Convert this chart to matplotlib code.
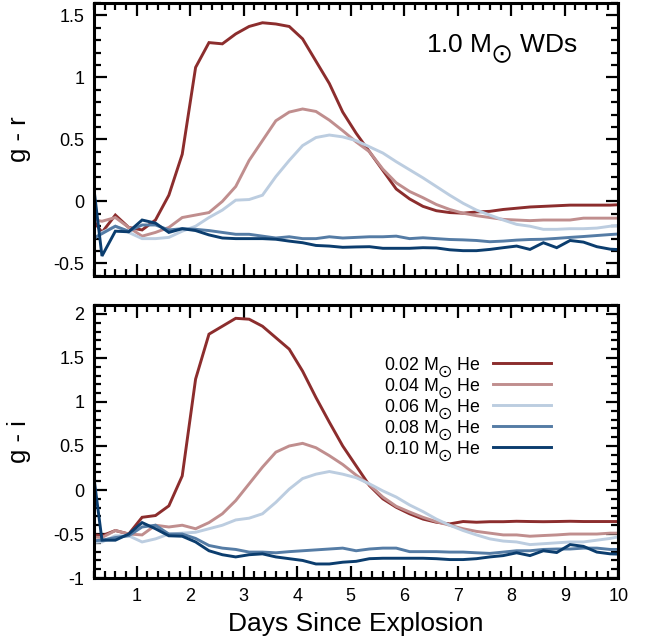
import numpy as np
import matplotlib
matplotlib.use('Agg')
import matplotlib.pyplot as plt
from matplotlib.ticker import MultipleLocator, FuncFormatter

plt.rcParams['font.family'] = ['Liberation Sans', 'DejaVu Sans']
plt.rcParams['mathtext.fontset'] = 'dejavusans'
plt.rcParams['axes.unicode_minus'] = False

# epochs (days since explosion), one every 0.25 d
days = np.arange(0.1, 10.2, 0.25)

sun = r'$_{_{\bigodot}}$'
he_labels = ['0.02 M' + sun + ' He', '0.04 M' + sun + ' He', '0.06 M' + sun + ' He',
             '0.08 M' + sun + ' He', '0.10 M' + sun + ' He']
colors = ['#8c2d2d', '#c08e8e', '#bccde0', '#557ca5', '#0b3d6e']

# g - r
gr_002 = [-0.1, -0.25, -0.11, -0.21, -0.23, -0.15, 0.05, 0.38, 1.08, 1.28, 1.27, 1.35, 1.41, 1.44,
          1.43, 1.41, 1.31, 1.13, 0.95, 0.72, 0.55, 0.40, 0.25, 0.10, 0.02, -0.04, -0.075, -0.09,
          -0.095, -0.085, -0.08, -0.065, -0.055, -0.045, -0.04, -0.035, -0.03, -0.03, -0.03, -0.03, -0.025]
gr_004 = [-0.14, -0.16, -0.13, -0.21, -0.28, -0.25, -0.21, -0.13, -0.11, -0.09, 0.0, 0.12, 0.33, 0.49,
          0.65, 0.72, 0.745, 0.725, 0.655, 0.57, 0.48, 0.40, 0.26, 0.15, 0.08, 0.03, -0.025, -0.065,
          -0.095, -0.115, -0.13, -0.145, -0.15, -0.155, -0.15, -0.15, -0.15, -0.135, -0.135, -0.135, -0.135]
gr_006 = [-0.33, -0.25, -0.2, -0.25, -0.3, -0.3, -0.29, -0.24, -0.2, -0.13, -0.07, 0.01, 0.015, 0.05,
          0.2, 0.33, 0.45, 0.515, 0.535, 0.52, 0.49, 0.44, 0.39, 0.32, 0.255, 0.19, 0.12, 0.05,
          -0.015, -0.07, -0.11, -0.15, -0.185, -0.2, -0.225, -0.225, -0.22, -0.22, -0.215, -0.2, -0.19]
gr_008 = [-0.32, -0.26, -0.2, -0.24, -0.19, -0.19, -0.23, -0.22, -0.225, -0.235, -0.25, -0.265, -0.265,
          -0.28, -0.295, -0.285, -0.3, -0.3, -0.285, -0.295, -0.29, -0.285, -0.285, -0.28, -0.3, -0.293,
          -0.3, -0.307, -0.31, -0.315, -0.325, -0.32, -0.312, -0.307, -0.305, -0.298, -0.29, -0.283,
          -0.275, -0.267, -0.26]
gr_010 = [0.46, -0.44, -0.24, -0.245, -0.15, -0.175, -0.25, -0.22, -0.235, -0.27, -0.295, -0.3, -0.3,
          -0.3, -0.305, -0.32, -0.333, -0.355, -0.36, -0.37, -0.367, -0.365, -0.378, -0.378, -0.378,
          -0.373, -0.375, -0.39, -0.397, -0.397, -0.387, -0.373, -0.36, -0.387, -0.333, -0.373, -0.315,
          -0.328, -0.365, -0.385, -0.39]

# g - i
gi_002 = [-0.5, -0.52, -0.46, -0.5, -0.31, -0.29, -0.18, 0.16, 1.26, 1.77, 1.86, 1.95, 1.94, 1.86,
          1.73, 1.6, 1.35, 1.05, 0.77, 0.5, 0.275, 0.05, -0.1, -0.196, -0.27, -0.33, -0.366, -0.385,
          -0.358, -0.366, -0.36, -0.36, -0.355, -0.358, -0.36, -0.358, -0.355, -0.358, -0.358, -0.358, -0.358]
gi_004 = [-0.53, -0.54, -0.46, -0.5, -0.51, -0.4, -0.42, -0.4, -0.44, -0.37, -0.27, -0.12, 0.07, 0.26,
          0.43, 0.5, 0.53, 0.48, 0.39, 0.29, 0.17, 0.06, -0.08, -0.185, -0.25, -0.31, -0.36, -0.4,
          -0.44, -0.47, -0.49, -0.51, -0.51, -0.525, -0.517, -0.51, -0.5, -0.5, -0.5, -0.49, -0.49]
gi_006 = [-0.6, -0.59, -0.52, -0.52, -0.59, -0.555, -0.5, -0.49, -0.48, -0.44, -0.4, -0.34, -0.32,
          -0.27, -0.14, 0.01, 0.13, 0.18, 0.21, 0.18, 0.14, 0.07, -0.01, -0.08, -0.17, -0.245, -0.33,
          -0.4, -0.46, -0.51, -0.555, -0.58, -0.59, -0.62, -0.61, -0.6, -0.59, -0.59, -0.57, -0.55, -0.52]
gi_008 = [-0.58, -0.57, -0.54, -0.52, -0.42, -0.4, -0.5, -0.5, -0.55, -0.63, -0.66, -0.675, -0.705,
          -0.705, -0.713, -0.7, -0.69, -0.68, -0.67, -0.66, -0.69, -0.67, -0.66, -0.66, -0.7, -0.7,
          -0.7, -0.705, -0.705, -0.713, -0.72, -0.705, -0.69, -0.69, -0.675, -0.67, -0.67, -0.66,
          -0.66, -0.675, -0.675]
gi_010 = [0.61, -0.57, -0.57, -0.5, -0.37, -0.44, -0.52, -0.525, -0.59, -0.69, -0.735, -0.76, -0.735,
          -0.725, -0.76, -0.78, -0.8, -0.84, -0.84, -0.82, -0.81, -0.78, -0.775, -0.775, -0.775, -0.775,
          -0.78, -0.79, -0.79, -0.78, -0.76, -0.745, -0.713, -0.745, -0.69, -0.71, -0.62, -0.64,
          -0.705, -0.725, -0.73]

gr_series = [gr_002, gr_004, gr_006, gr_008, gr_010]
gi_series = [gi_002, gi_004, gi_006, gi_008, gi_010]


def style_axis(ax, ymin, ymax, show_xlabels):
    ax.set_xlim(0.2, 10)
    ax.set_ylim(ymin, ymax)
    ax.xaxis.set_major_locator(MultipleLocator(1))
    ax.xaxis.set_minor_locator(MultipleLocator(0.2))
    ax.yaxis.set_major_locator(MultipleLocator(0.5))
    ax.yaxis.set_minor_locator(MultipleLocator(0.1))
    ax.yaxis.set_major_formatter(FuncFormatter(lambda v, p: '%g' % round(v, 2)))
    ax.xaxis.set_major_formatter(FuncFormatter(lambda v, p: '%g' % round(v, 2)))
    ax.tick_params(which='both', direction='in', top=True, right=True, labelsize=13, width=1.6)
    ax.tick_params(which='major', length=9, pad=7)
    ax.tick_params(which='minor', length=5)
    if not show_xlabels:
        ax.tick_params(labelbottom=False)
    for sp in ax.spines.values():
        sp.set_linewidth(2.2)


fig = plt.figure(figsize=(6.57, 6.43), dpi=100)
ax1 = fig.add_axes([0.143, 0.571, 0.798, 0.4245])
ax2 = fig.add_axes([0.143, 0.101, 0.798, 0.4245])

for vals, c in zip(gr_series, colors):
    ax1.plot(days, vals, color=c, lw=2.1, solid_joinstyle='miter')
for vals, c, lab in zip(gi_series, colors, he_labels):
    ax2.plot(days, vals, color=c, lw=2.1, label=lab, solid_joinstyle='miter')

style_axis(ax1, -0.6, 1.6, False)
style_axis(ax2, -1.0, 2.1, True)

ax1.set_ylabel('g - r', fontsize=18.5, labelpad=16)
ax2.set_ylabel('g - i', fontsize=18.5, labelpad=16)
ax2.set_xlabel('Days Since Explosion', fontsize=19, labelpad=5)

ax1.text(0.923, 0.83, '1.0 M' + sun + ' WDs', transform=ax1.transAxes,
         fontsize=19, ha='right', va='center')

ax2.legend(loc='upper right', bbox_to_anchor=(0.888, 0.85), frameon=False, markerfirst=False,
           fontsize=12.8, handlelength=3.25, handletextpad=0.7, labelspacing=-0.17, borderpad=0)

fig.savefig('out.png', dpi=100)
